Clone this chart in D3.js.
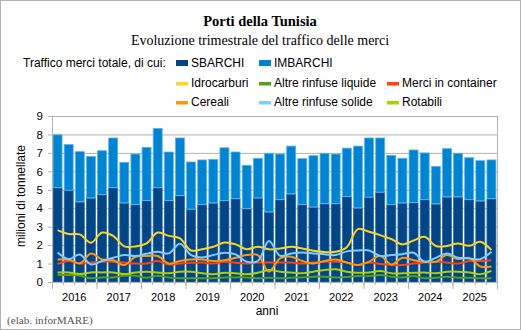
<!DOCTYPE html>
<html>
<head>
<meta charset="utf-8">
<script src="https://cdn.jsdelivr.net/npm/d3@7/dist/d3.min.js"></script>
<style>
	body { margin: 0; background: #fff; }
	svg { display: block; font-family: 'Liberation Sans', Arial, sans-serif; }
	.serif { font-family: 'Liberation Serif', 'Times New Roman', serif; }
</style>
</head>
<body>
<div id="chart"></div>
<script>
// ********** PORTI DELLA TUNISIA - TRAFFICO TRIMESTRALE **********

// Years shown on the x axis (4 quarters each)
const years = ['2016', '2017', '2018', '2019', '2020', '2021', '2022', '2023', '2024', '2025'];
// Quarter categories
const quarters = years.flatMap(y => ['T1', 'T2', 'T3', 'T4'].map(q => `${y}-${q}`));

// Stacked bars (milioni di tonnellate)
const sbarchi = [5.12, 4.98, 4.35, 4.56, 4.74, 5.12, 4.29, 4.20, 4.42, 5.12,
	4.42, 4.69, 3.95, 4.20, 4.29, 4.42, 4.52, 3.98, 4.56, 3.80,
	4.47, 4.78, 4.20, 4.07, 4.25, 4.25, 4.63, 4.02, 4.60, 4.87,
	4.20, 4.29, 4.31, 4.47, 4.24, 4.62, 4.62, 4.47, 4.40, 4.52];
const imbarchi = [2.88, 2.50, 2.74, 2.27, 2.40, 2.71, 2.22, 2.76, 2.90, 3.23,
	2.65, 3.14, 2.58, 2.44, 2.38, 2.88, 2.55, 2.37, 2.17, 3.20,
	2.49, 2.61, 2.51, 2.80, 2.75, 2.71, 2.65, 3.37, 3.23, 2.96,
	2.69, 2.44, 2.87, 2.55, 2.05, 2.63, 2.38, 2.29, 2.20, 2.12];

// Line series (milioni di tonnellate)
const idrocarburi = [2.81, 2.60, 2.58, 2.13, 2.68, 2.50, 1.93, 1.93, 2.09, 2.68,
	2.50, 2.36, 1.71, 1.78, 1.91, 2.14, 2.04, 1.78, 1.91, 1.77,
	1.82, 1.91, 1.82, 1.69, 1.62, 1.64, 1.89, 2.87, 2.72, 2.54,
	2.33, 2.04, 2.25, 2.45, 1.95, 1.95, 2.09, 1.96, 2.18, 1.73];
const altreLiquide = [0.38, 0.38, 0.34, 0.20, 0.25, 0.25, 0.34, 0.34, 0.23, 0.34,
	0.25, 0.20, 0.20, 0.20, 0.20, 0.25, 0.25, 0.25, 0.20, 0.23,
	0.20, 0.23, 0.25, 0.29, 0.29, 0.25, 0.27, 0.32, 0.32, 0.38,
	0.29, 0.25, 0.32, 0.20, 0.23, 0.29, 0.23, 0.23, 0.20, 0.20];
const container = [0.97, 1.14, 1.00, 1.06, 1.10, 1.10, 1.06, 1.00, 1.00, 1.14,
	0.95, 1.00, 1.04, 1.06, 1.00, 1.10, 1.04, 1.00, 1.06, 1.06,
	1.06, 1.06, 1.00, 1.06, 1.10, 1.10, 1.06, 0.92, 1.06, 0.97,
	0.92, 0.92, 1.00, 1.06, 1.10, 1.06, 1.00, 1.14, 1.14, 1.18];
const cereali = [1.22, 1.22, 1.01, 1.55, 1.22, 1.18, 0.92, 1.37, 1.41, 1.41,
	1.00, 1.14, 1.22, 1.22, 1.14, 1.18, 1.31, 1.46, 1.46, 0.56,
	1.28, 1.37, 1.14, 1.00, 1.14, 1.22, 1.06, 0.92, 1.10, 1.42,
	0.95, 1.31, 1.18, 1.10, 1.10, 1.46, 1.24, 1.31, 0.84, 0.84];
const altreSolide = [1.60, 1.24, 1.49, 0.95, 1.14, 1.31, 1.46, 1.41, 1.53, 1.64,
	1.55, 2.07, 1.46, 1.33, 1.46, 1.59, 1.50, 1.10, 1.14, 2.22,
	1.42, 1.55, 1.60, 1.55, 1.50, 1.46, 1.66, 1.71, 1.71, 1.41,
	1.46, 1.51, 1.59, 1.10, 1.31, 1.55, 1.31, 1.28, 1.24, 1.64];
const rotabili = [0.52, 0.52, 0.43, 0.52, 0.52, 0.52, 0.43, 0.52, 0.56, 0.52,
	0.47, 0.56, 0.56, 0.47, 0.42, 0.50, 0.47, 0.42, 0.50, 0.65,
	0.56, 0.52, 0.47, 0.56, 0.65, 0.69, 0.56, 0.50, 0.52, 0.60,
	0.47, 0.47, 0.50, 0.52, 0.47, 0.56, 0.56, 0.52, 0.42, 0.60];

// Y axis ticks
const yTicks = [0, 1, 2, 3, 4, 5, 6, 7, 8, 9];

// Chart size and margins
const width = 521;
const height = 330;
const margin = { top: 116, left: 52, right: 24, bottom: 48 };

// Series names and colours
const barSeries = [
	{ name: 'SBARCHI', values: sbarchi, color: '#004586', stroke: '#2f6ca8' },
	{ name: 'IMBARCHI', values: imbarchi, color: '#0084d1', stroke: '#5cb3ea' }
];
const lineSeries = [
	{ name: 'Idrocarburi', values: idrocarburi, color: '#ffd320' },
	{ name: 'Altre rinfuse liquide', values: altreLiquide, color: '#579d1c' },
	{ name: 'Merci in container', values: container, color: '#ff420e' },
	{ name: 'Cereali', values: cereali, color: '#ff950e' },
	{ name: 'Altre rinfuse solide', values: altreSolide, color: '#83caff' },
	{ name: 'Rotabili', values: rotabili, color: '#aecf00' }
];

const svg = d3.select('#chart')
	.append('svg')
	.attr('width', width)
	.attr('height', height);

// Outer frame
svg.append('rect')
	.attr('x', 0.5).attr('y', 0.5)
	.attr('width', width - 1).attr('height', height - 1)
	.attr('fill', '#fff')
	.attr('stroke', '#b3b3b3');

// Titles
svg.append('text')
	.attr('class', 'serif')
	.attr('x', 260).attr('y', 26)
	.attr('text-anchor', 'middle')
	.attr('font-size', 14.5)
	.attr('font-weight', 'bold')
	.text('Porti della Tunisia');

svg.append('text')
	.attr('class', 'serif')
	.attr('x', 260).attr('y', 45)
	.attr('text-anchor', 'middle')
	.attr('font-size', 14)
	.text('Evoluzione trimestrale del traffico delle merci');

// Scales
const plotW = width - margin.left - margin.right;
const plotH = height - margin.top - margin.bottom;

const xScale = d3.scaleBand()
	.domain(quarters)
	.range([0, plotW])
	.paddingInner(0.12)
	.paddingOuter(0.06);

const yScale = d3.scaleLinear()
	.domain([0, 9])
	.range([plotH, 0]);

const plot = svg.append('g')
	.attr('transform', `translate(${margin.left}, ${margin.top})`);

// Horizontal gridlines
plot.append('g')
	.attr('class', 'grid')
	.call(d3.axisLeft(yScale).tickValues(yTicks).tickSize(-plotW).tickFormat(''))
	.call(g => g.select('.domain').remove())
	.call(g => g.selectAll('line').attr('stroke', '#b3b3b3'));

// Right frame line
plot.append('line')
	.attr('x1', plotW + 0.5).attr('x2', plotW + 0.5)
	.attr('y1', 0).attr('y2', plotH)
	.attr('stroke', '#b3b3b3');

// Stacked bars
const stackData = quarters.map((q, i) => ({ q, SBARCHI: sbarchi[i], IMBARCHI: imbarchi[i] }));
const stacked = d3.stack().keys(barSeries.map(s => s.name))(stackData);

plot.selectAll('g.layer')
	.data(stacked)
	.enter()
	.append('g')
	.attr('class', 'layer')
	.attr('fill', (d, i) => barSeries[i].color)
	.attr('stroke', (d, i) => barSeries[i].stroke)
	.attr('stroke-width', 0.8)
	.selectAll('rect')
	.data(d => d)
	.enter()
	.append('rect')
	.attr('x', d => xScale(d.data.q) + 0.4)
	.attr('y', d => yScale(d[1]) + 0.4)
	.attr('width', xScale.bandwidth() - 0.8)
	.attr('height', d => yScale(d[0]) - yScale(d[1]) - 0.4);

// Smoothed lines
const line = d3.line()
	.x((d, i) => xScale(quarters[i]) + xScale.bandwidth() / 2)
	.y(d => yScale(d))
	.curve(d3.curveCatmullRom.alpha(0.5));

plot.selectAll('path.series')
	.data(lineSeries)
	.enter()
	.append('path')
	.attr('class', 'series')
	.attr('fill', 'none')
	.attr('stroke', d => d.color)
	.attr('stroke-width', 2)
	.attr('d', d => line(d.values));

// Y axis
plot.append('g')
	.attr('class', 'y axis')
	.call(d3.axisLeft(yScale).tickValues(yTicks).tickSize(4).tickPadding(5))
	.call(g => g.select('.domain').attr('stroke', '#b3b3b3'))
	.call(g => g.selectAll('line').attr('stroke', '#b3b3b3'))
	.call(g => g.selectAll('text').attr('font-size', 11.5).attr('fill', '#000')
		.style('font-family', "'Liberation Sans', Arial, sans-serif"));

// X axis: minor ticks on quarters, major on years, labels centred on each year
const boundary = d3.scaleLinear().domain([0, quarters.length]).range([0, plotW]);

plot.append('g')
	.attr('transform', `translate(0, ${plotH})`)
	.call(d3.axisBottom(boundary).tickValues(d3.range(quarters.length + 1)).tickSize(3).tickFormat(''))
	.call(g => g.selectAll('line, path').attr('stroke', '#b3b3b3'));

plot.append('g')
	.attr('transform', `translate(0, ${plotH})`)
	.call(d3.axisBottom(boundary).tickValues(d3.range(0, quarters.length + 1, 4)).tickSize(7).tickFormat(''))
	.call(g => g.select('.domain').remove())
	.call(g => g.selectAll('line').attr('stroke', '#b3b3b3'));

const yearScale = d3.scaleBand().domain(years).range([0, plotW]);
plot.append('g')
	.attr('transform', `translate(0, ${plotH})`)
	.call(d3.axisBottom(yearScale).tickSize(0).tickPadding(11))
	.call(g => g.select('.domain').remove())
	.call(g => g.selectAll('text').attr('font-size', 11).attr('fill', '#000')
		.style('font-family', "'Liberation Sans', Arial, sans-serif"));

// Axis titles
svg.append('text')
	.attr('x', 267).attr('y', 315)
	.attr('text-anchor', 'middle')
	.attr('font-size', 12)
	.text('anni');

svg.append('text')
	.attr('transform', 'rotate(-90)')
	.attr('x', -196).attr('y', 25)
	.attr('text-anchor', 'middle')
	.attr('font-size', 12)
	.text('milioni di tonnellate');

// Source note
svg.append('text')
	.attr('class', 'serif')
	.attr('x', 7).attr('y', 324)
	.attr('font-size', 11.2)
	.attr('fill', '#555')
	.text('(elab. inforMARE)');

// Legend
const legend = svg.append('g').attr('class', 'legend');

legend.append('text')
	.attr('x', 23).attr('y', 67)
	.attr('font-size', 12)
	.text('Traffico merci totale, di cui:');

const legendItems = [
	{ s: barSeries[0], col: 0, row: 0, box: true },
	{ s: barSeries[1], col: 1, row: 0, box: true },
	{ s: lineSeries[0], col: 0, row: 1 },
	{ s: lineSeries[1], col: 1, row: 1 },
	{ s: lineSeries[2], col: 2, row: 1 },
	{ s: lineSeries[3], col: 0, row: 2 },
	{ s: lineSeries[4], col: 1, row: 2 },
	{ s: lineSeries[5], col: 2, row: 2 }
];
const colX = [176, 259, 387];
const rowY = [67, 87, 106];

const li = legend.selectAll('g.item')
	.data(legendItems)
	.enter()
	.append('g')
	.attr('class', 'item')
	.attr('transform', d => `translate(${colX[d.col]}, ${rowY[d.row]})`);

li.append('rect')
	.attr('x', 0)
	.attr('y', d => d.box ? -7 : -5)
	.attr('width', 12)
	.attr('height', d => d.box ? 6 : 3.5)
	.attr('fill', d => d.s.color);

li.append('text')
	.attr('x', 15)
	.attr('font-size', 12)
	.text(d => d.s.name);
</script>
</body>
</html>
